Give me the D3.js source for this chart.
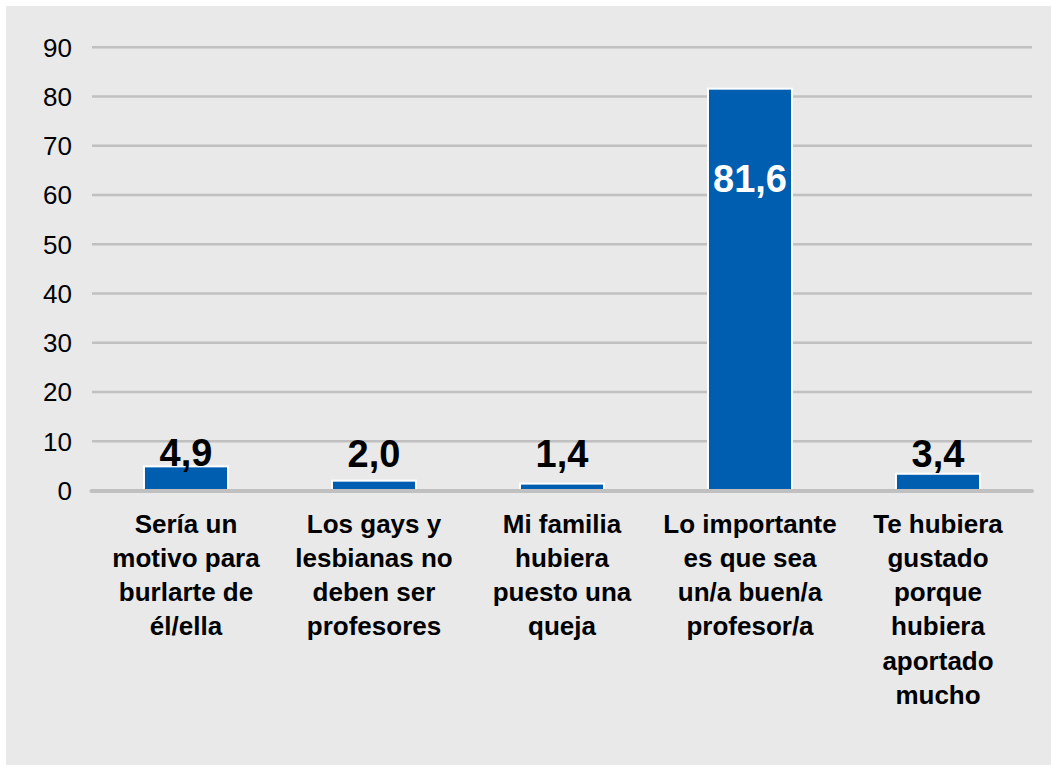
<!DOCTYPE html>
<html>
<head>
<meta charset="utf-8">
<script src="https://cdn.jsdelivr.net/npm/d3@7"></script>
<style>
  body { margin: 0; background: #ffffff; }
  svg { display: block; }
</style>
</head>
<body>
<div class="chart"></div>
<script>
// categories (split in lines as in the picture) and values
var categories = [
    ["Sería un", "motivo para", "burlarte de", "él/ella"],
    ["Los gays y", "lesbianas no", "deben ser", "profesores"],
    ["Mi familia", "hubiera", "puesto una", "queja"],
    ["Lo importante", "es que sea", "un/a buen/a", "profesor/a"],
    ["Te hubiera", "gustado", "porque", "hubiera", "aportado", "mucho"]
];
var values = [4.9, 2.0, 1.4, 81.6, 3.4];
var yTicks = [0, 10, 20, 30, 40, 50, 60, 70, 80, 90];

var width = 1051, height = 765;
var plotLeft = 92, plotRight = 1032, plotTop = 47.3, plotBottom = 490.5;

var svg = d3.select(".chart")
    .append("svg")
    .attr("width", width)
    .attr("height", height);

// grey panel
svg.append("rect")
    .attr("x", 6)
    .attr("y", 6)
    .attr("width", width - 6)
    .attr("height", height - 6)
    .attr("fill", "#e9e9e9");

var x = d3.scaleBand()
    .domain(d3.range(values.length))
    .range([plotLeft, plotRight])
    .paddingInner(0.553)
    .paddingOuter(0.2765);

var y = d3.scaleLinear()
    .domain([0, 90])
    .range([plotBottom, plotTop]);

// gridlines
svg.selectAll(".grid")
    .data(yTicks.filter(d => d > 0))
    .enter()
    .append("line")
    .attr("x1", plotLeft)
    .attr("x2", plotRight)
    .attr("y1", d => y(d))
    .attr("y2", d => y(d))
    .attr("stroke", "#c0c0c0")
    .attr("stroke-width", 2.5);

// y tick labels
svg.selectAll(".ytick")
    .data(yTicks)
    .enter()
    .append("text")
    .attr("x", 72)
    .attr("y", d => y(d))
    .attr("dy", "0.36em")
    .attr("text-anchor", "end")
    .attr("font-family", "Liberation Sans, Arial, sans-serif")
    .attr("font-size", 26)
    .attr("fill", "#000")
    .text(d => d);

// bars
svg.selectAll(".bar")
    .data(values)
    .enter()
    .append("rect")
    .attr("x", (d, i) => x(i))
    .attr("y", d => y(d))
    .attr("width", x.bandwidth())
    .attr("height", d => y(0) - y(d))
    .attr("fill", "#005eb0")
    .attr("stroke", "#ffffff")
    .attr("stroke-width", 2);

// axis baseline
svg.append("line")
    .attr("x1", plotLeft - 0.5)
    .attr("x2", plotRight)
    .attr("y1", y(0) + 0.5)
    .attr("y2", y(0) + 0.5)
    .attr("stroke", "#c0c0c0")
    .attr("stroke-width", 4)
    .attr("stroke-linecap", "round");

// value labels
var fmt = d => d.toFixed(1).replace(".", ",");
svg.selectAll(".val")
    .data(values)
    .enter()
    .append("text")
    .attr("x", (d, i) => x(i) + x.bandwidth() / 2)
    .attr("y", function(d) {
        if (d > 50) return y(d) + 103;
        return Math.min(y(d), y(0) - 24);
    })
    .attr("text-anchor", "middle")
    .attr("font-family", "Liberation Sans, Arial, sans-serif")
    .attr("font-weight", "bold")
    .attr("font-size", 38)
    .attr("fill", d => d > 50 ? "#ffffff" : "#000000")
    .text(fmt);

// category labels
var cat = svg.selectAll(".cat")
    .data(categories)
    .enter()
    .append("text")
    .attr("text-anchor", "middle")
    .attr("font-family", "Liberation Sans, Arial, sans-serif")
    .attr("font-weight", "bold")
    .attr("font-size", 26)
    .attr("fill", "#000");

cat.selectAll("tspan")
    .data((d, i) => d.map(line => ({line: line, i: i})))
    .enter()
    .append("tspan")
    .attr("x", d => x(d.i) + x.bandwidth() / 2)
    .attr("y", (d, j) => 532.5 + j * 34.3)
    .text(d => d.line);
</script>
</body>
</html>
